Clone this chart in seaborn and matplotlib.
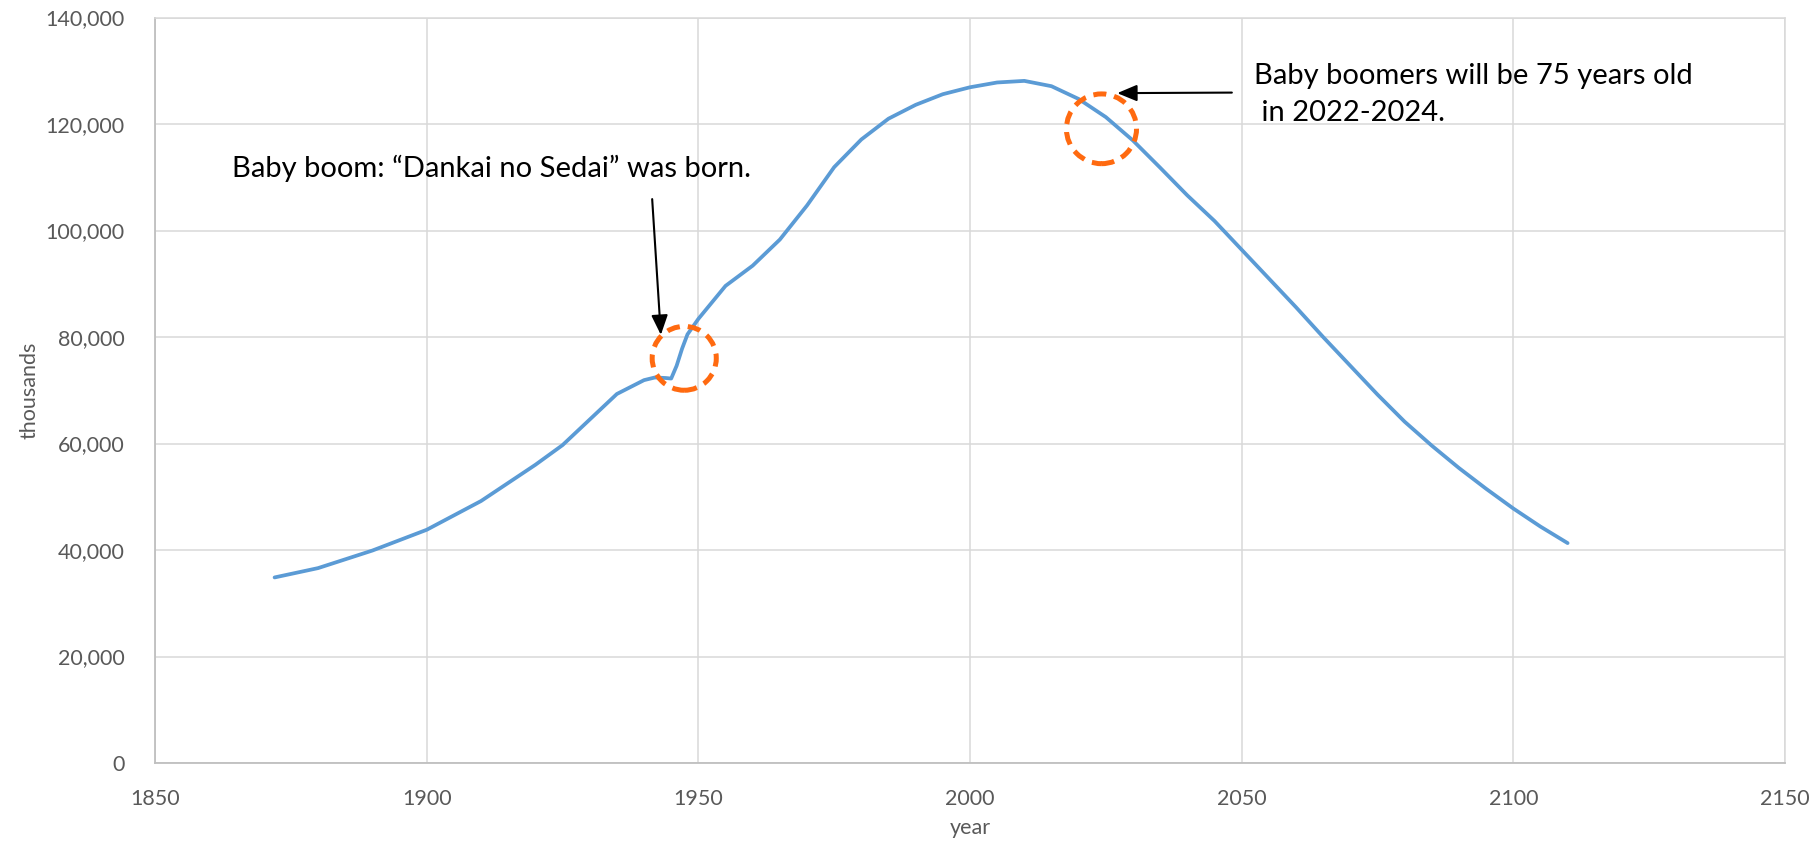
import matplotlib
matplotlib.use("Agg")
import matplotlib.pyplot as plt
from matplotlib.patches import Ellipse
from matplotlib.ticker import FuncFormatter
import pandas as pd
import seaborn as sns

# population of Japan, thousands
years = [1872, 1880, 1890, 1900, 1910, 1920, 1925, 1930, 1935, 1940,
         1942, 1944, 1945, 1946, 1947, 1948, 1950, 1955, 1960, 1965,
         1970, 1975, 1980, 1985, 1990, 1995, 2000, 2005, 2010, 2015,
         2020, 2025, 2030, 2035, 2040, 2045, 2050, 2055, 2060, 2065,
         2070, 2075, 2080, 2085, 2090, 2095, 2100, 2105, 2110]
population = [34850, 36600, 39900, 43800, 49200, 56000, 59700, 64500, 69300, 71900,
              72400, 72300, 72200, 74600, 77800, 80500, 83400, 89600, 93400, 98300,
              104700, 111900, 117100, 121000, 123600, 125600, 126900, 127800, 128100, 127100,
              124700, 121300, 116900, 111800, 106600, 101800, 96400, 91000, 85600, 80000,
              74600, 69200, 64100, 59600, 55400, 51500, 47800, 44400, 41300]

x_ticks = [1850, 1900, 1950, 2000, 2050, 2100, 2150]
y_ticks = [0, 20000, 40000, 60000, 80000, 100000, 120000, 140000]

note_boom = "Baby boom: \u201cDankai no Sedai\u201d was born."
note_old_1 = "Baby boomers will be 75 years old"
note_old_2 = " in 2022-2024."

df = pd.DataFrame({"year": years, "thousands": population})

sns.set_style("white")
plt.rcParams['font.family'] = ['Lato', 'DejaVu Sans']

fig = plt.figure(figsize=(18.18, 8.46), dpi=100)
ax = fig.add_axes([0.0853, 0.0981, 0.8965, 0.8812])

sns.lineplot(data=df, x="year", y="thousands", ax=ax, color="#5B9BD5",
             linewidth=2.7, sort=False, zorder=3,
             solid_joinstyle="round", solid_capstyle="round")

ax.set_xlim(1850, 2150)
ax.set_ylim(0, 140000)
ax.set_xticks(x_ticks)
ax.set_yticks(y_ticks)
ax.yaxis.set_major_formatter(FuncFormatter(lambda v, p: f"{int(v):,}"))
ax.grid(True, color="#D9D9D9", linewidth=1.1)
ax.set_axisbelow(True)

for side in ["top", "right"]:
    ax.spines[side].set_color("#D9D9D9")
    ax.spines[side].set_linewidth(1.1)
for side in ["left", "bottom"]:
    ax.spines[side].set_color("#BFBFBF")
    ax.spines[side].set_linewidth(1.3)

ax.tick_params(axis="both", length=0, labelsize=15.5, labelcolor="#595959")
ax.tick_params(axis="x", pad=19)
ax.tick_params(axis="y", pad=22)
ax.set_xlabel("year", fontsize=15.5, color="#595959", labelpad=6)
ax.set_ylabel("thousands", fontsize=15.5, color="#595959", labelpad=4)

# dashed circles
orange = "#FF6A10"
ax.add_patch(Ellipse((1947.4, 76000), 11.8, 12000, fill=False, edgecolor=orange,
                     linewidth=3.6, linestyle=(0, (2.6, 1.6)), zorder=4))
ax.add_patch(Ellipse((2024.2, 119100), 12.9, 13100, fill=False, edgecolor=orange,
                     linewidth=3.6, linestyle=(0, (2.6, 1.6)), zorder=4))

# arrows
arrow_kw = dict(arrowstyle="-|>,head_length=0.6,head_width=0.25", color="black",
                lw=1.5, shrinkA=0, shrinkB=0, mutation_scale=20)
ax.annotate("", xy=(1943.1, 80400), xytext=(1941.5, 105900), arrowprops=arrow_kw, zorder=5)
ax.annotate("", xy=(2027.1, 125800), xytext=(2048.2, 125900), arrowprops=arrow_kw, zorder=5)

# notes
ax.text(1864.2, 110000, note_boom, fontsize=21, color="black", va="baseline")
ax.text(2052.2, 127500, note_old_1, fontsize=21, color="black", va="baseline")
ax.text(2052.2, 120500, note_old_2, fontsize=21, color="black", va="baseline")

fig.savefig("out.png", dpi=100)
